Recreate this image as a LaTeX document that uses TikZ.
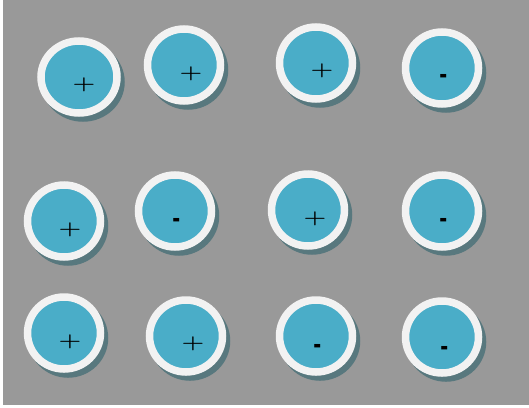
\documentclass[tikz,border=0pt]{standalone}
\usepackage{tikz}
\usepackage{graphicx}
\usetikzlibrary{shapes.geometric,positioning}

\definecolor{boardgray}{RGB}{153,153,153}
\definecolor{ringwhite}{RGB}{242,242,242}
\definecolor{discblue}{RGB}{74,173,200}
\definecolor{shadowteal}{RGB}{88,120,126}

\newcommand{\pluscharge}{\scalebox{1}[0.72]{\fontsize{26}{26}\selectfont\bfseries +}}
\newcommand{\minuscharge}{\scalebox{0.9}[1.7]{\fontsize{22}{22}\selectfont\bfseries -}}

\begin{document}
\begin{tikzpicture}[
    x=1pt, y=-1pt,
    disc/.style={ellipse, inner sep=0pt, minimum width=73pt, minimum height=72pt,
      fill=discblue, draw=ringwhite, line width=7.5pt,
      preaction={draw=shadowteal, fill=shadowteal, line width=7.5pt,
        transform canvas={shift={(4pt,-5pt)}}}},
    sign/.style={inner sep=0pt, text=black}
  ]
    \useasboundingbox (0,0) rectangle (529,407);
    \fill[boardgray] (3,0) rectangle (529,405);
    % top row
    \node[disc, minimum width=76pt, minimum height=72pt] (d1) at (79,77) {};
    \node[disc] (d2) at (184,65) {};
    \node[disc] (d3) at (316,63) {};
    \node[disc] (d4) at (442,68) {};
    % middle row
    \node[disc] (d5) at (64,221) {};
    \node[disc] (d6) at (175,211) {};
    \node[disc] (d7) at (308,210) {};
    \node[disc] (d8) at (442,211) {};
    % bottom row
    \node[disc] (d9) at (64,333) {};
    \node[disc] (d10) at (186,336) {};
    \node[disc] (d11) at (316,336) {};
    \node[disc] (d12) at (442,337) {};
    % charges
    \node[sign] (s1) at (84,85) {\pluscharge};
    \node[sign] (s2) at (191,74) {\pluscharge};
    \node[sign] (s3) at (322,71) {\pluscharge};
    \node[sign] (s4) at (444,79) {\minuscharge};
    \node[sign] (s5) at (70,230) {\pluscharge};
    \node[sign] (s6) at (177,223) {\minuscharge};
    \node[sign] (s7) at (315,219) {\pluscharge};
    \node[sign] (s8) at (444,223) {\minuscharge};
    \node[sign] (s9) at (70,342) {\pluscharge};
    \node[sign] (s10) at (193,344) {\pluscharge};
    \node[sign] (s11) at (318,349) {\minuscharge};
    \node[sign] (s12) at (445,351) {\minuscharge};
  \end{tikzpicture}
\end{document}
